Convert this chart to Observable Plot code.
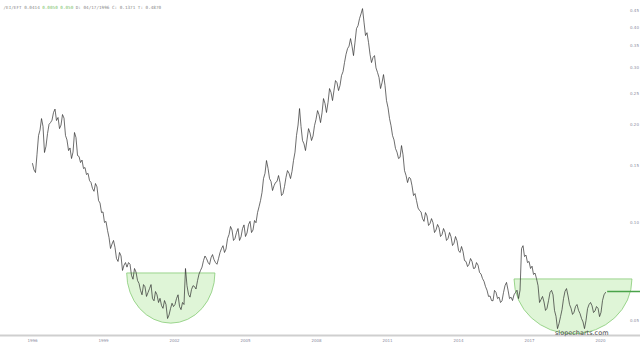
<!DOCTYPE html>
<html><head><meta charset="utf-8">
<script src="https://cdn.jsdelivr.net/npm/d3@7"></script>
<script src="https://cdn.jsdelivr.net/npm/@observablehq/plot@0.6"></script>
<style>html,body{margin:0;padding:0;background:#fff;} #chart svg{display:block}</style>
</head><body><div id="chart"></div>
<script>
// ---- data ----
const seriesStart = "1996-01-01";
const stepDays = 23.15;
const ratioValues = [
0.1522,0.1455,0.1428,0.1620,0.1857,0.1930,0.2094,0.1980,0.1646,0.1720,
0.1883,0.2010,0.2035,0.2070,0.2186,0.2240,0.2065,0.2110,0.1950,0.2000,
0.2155,0.2100,0.1857,0.1800,0.1669,0.1700,0.1577,0.1650,0.1897,0.1830,
0.1611,0.1600,0.1533,0.1560,0.1469,0.1480,0.1408,0.1420,0.1349,0.1330,
0.1275,0.1250,0.1321,0.1290,0.1171,0.1150,0.1075,0.1080,0.1002,0.1010,
0.0947,0.0900,0.0833,0.0860,0.0882,0.0840,0.0776,0.0760,0.0810,0.0790,
0.0713,0.0740,0.0754,0.0730,0.0754,0.0745,0.0688,0.0670,0.0723,0.0705,
0.0664,0.0650,0.0619,0.0600,0.0645,0.0635,0.0593,0.0610,0.0627,0.0645,
0.0584,0.0575,0.0614,0.0600,0.0568,0.0585,0.0556,0.0545,0.0576,0.0560,
0.0507,0.0520,0.0544,0.0565,0.0552,0.0560,0.0584,0.0600,0.0552,0.0540,
0.0568,0.0560,0.0723,0.0640,0.0601,0.0590,0.0623,0.0640,0.0636,0.0625,
0.0664,0.0695,0.0713,0.0730,0.0765,0.0790,0.0776,0.0755,0.0744,0.0780,
0.0798,0.0770,0.0754,0.0745,0.0776,0.0810,0.0833,0.0850,0.0810,0.0830,
0.0894,0.0920,0.0974,0.0950,0.0882,0.0895,0.0933,0.0960,0.0882,0.0905,
0.0960,0.0985,0.0907,0.0930,0.0988,0.1010,0.0933,0.0950,0.1016,0.1000,
0.1075,0.1120,0.1171,0.1240,0.1368,0.1420,0.1555,0.1470,0.1368,0.1340,
0.1257,0.1300,0.1330,0.1340,0.1398,0.1330,0.1213,0.1230,0.1293,0.1380,
0.1448,0.1420,0.1368,0.1440,0.1555,0.1650,0.1857,0.2000,0.2248,0.1980,
0.1792,0.1750,0.1669,0.1800,0.1950,0.1890,0.1792,0.1850,0.1992,0.2080,
0.2216,0.2150,0.2035,0.2180,0.2413,0.2330,0.2186,0.2350,0.2591,0.2520,
0.2379,0.2560,0.2742,0.2700,0.2554,0.2650,0.2841,0.2920,0.3115,0.3300,
0.3440,0.3500,0.3693,0.3500,0.3273,0.3600,0.3964,0.4050,0.4256,0.4400,
0.4568,0.4150,0.3773,0.3850,0.3590,0.3300,0.3115,0.3230,0.3273,0.3000,
0.2902,0.2800,0.2591,0.2700,0.2861,0.2650,0.2379,0.2260,0.2094,0.1990,
0.1857,0.1800,0.1693,0.1650,0.1577,0.1590,0.1729,0.1620,0.1448,0.1400,
0.1330,0.1380,0.1368,0.1300,0.1213,0.1230,0.1171,0.1110,0.1091,0.1080,
0.1030,0.1010,0.1075,0.1050,0.0981,0.0995,0.1030,0.1000,0.0933,0.0950,
0.0988,0.0965,0.0907,0.0920,0.0960,0.0935,0.0882,0.0895,0.0933,0.0905,
0.0851,0.0865,0.0907,0.0880,0.0821,0.0810,0.0845,0.0815,0.0765,0.0760,
0.0733,0.0745,0.0776,0.0760,0.0723,0.0725,0.0754,0.0740,0.0703,0.0695,
0.0673,0.0660,0.0636,0.0620,0.0593,0.0595,0.0576,0.0575,0.0619,0.0610,
0.0584,0.0590,0.0568,0.0575,0.0610,0.0640,0.0655,0.0620,0.0584,0.0590,
0.0576,0.0600,0.0610,0.0620,0.0584,0.0620,0.0833,0.0850,0.0787,0.0795,
0.0754,0.0760,0.0723,0.0735,0.0693,0.0700,0.0673,0.0640,0.0568,0.0580,
0.0593,0.0570,0.0537,0.0545,0.0576,0.0610,0.0619,0.0600,0.0537,0.0515,
0.0472,0.0490,0.0514,0.0540,0.0584,0.0615,0.0627,0.0595,0.0560,0.0545,
0.0522,0.0530,0.0552,0.0560,0.0537,0.0525,0.0507,0.0495,0.0472,0.0500,
0.0544,0.0560,0.0568,0.0555,0.0529,0.0535,0.0552,0.0545,0.0514,0.0530,
0.0576,0.0600,0.0610
];
const yTickValues = [0.05,0.10,0.15,0.20,0.25,0.30,0.35,0.40,0.45];
const xTickYears = [1996,1999,2002,2005,2008,2011,2014,2017,2020];
const xDomain = ["1994-08-25","2021-09-09"];
const yDomain = [0.04495, 0.4838];
const bowlStarts = ["2000-01-01","2016-05-14"];
const bowlEnds = ["2003-09-24","2021-05-08"];
const bowlTops = [0.0698, 0.0669];
const bowlBottoms = [0.0489, 0.0453];
const levelStart = "2020-04-20";
const levelValue = 0.0614;
const headerParts = ["/EI/EFT 0.0414 ", "0.0050 0.050 ", "D: 04/17/1996 C: 0.1371 T: 0.4870"];
const headerColors = ["#8a8a8a", "#7bbf6a", "#8a8a8a"];
const watermark = "slopecharts.com";

// ---- build tables ----
const start = new Date(seriesStart);
const series = ratioValues.map((v, i) => ({date: new Date(+start + Math.round(i * stepDays) * 864e5), value: v}));
const bowls = bowlStarts.map((s, i) => ({start: new Date(s), end: new Date(bowlEnds[i]), top: bowlTops[i], bottom: bowlBottoms[i]}));
const xTicks = xTickYears.map(y => new Date(Date.UTC(y, 0, 1)));

const headerFont = 4.3;
let offset = 3;
const headerMarks = headerParts.map((t, i) => {
  const m = Plot.text([t], {frameAnchor: "top-left", dx: offset, dy: 5, fontSize: headerFont,
    fontFamily: "DejaVu Sans Mono", fill: headerColors[i], text: d => d});
  offset += t.length * headerFont * 0.6;
  return m;
});

function bowlMark(index, scales) {
  const g = d3.create("svg:g");
  for (const b of bowls) {
    const x1 = scales.x(b.start), x2 = scales.x(b.end);
    const yt = scales.y(b.top), yb = scales.y(b.bottom);
    const rx = (x2 - x1) / 2, ry = yb - yt;
    g.append("path")
      .attr("d", `M${x1},${yt}A${rx},${ry} 0 0 0 ${x2},${yt}Z`)
      .attr("fill", "#c9efbd").attr("fill-opacity", 0.6)
      .attr("stroke", "#86cc76").attr("stroke-width", 0.8);
  }
  return g.node();
}

const chart = Plot.plot({
  width: 640, height: 347,
  marginTop: 0, marginBottom: 12, marginLeft: 0, marginRight: 0,
  style: {background: "#fff", fontFamily: "DejaVu Sans"},
  x: {type: "utc", domain: xDomain.map(d => new Date(d)), label: null},
  y: {type: "log", domain: yDomain, label: null},
  marks: [
    Plot.frame({anchor: "bottom", stroke: "#cfcfcf", strokeWidth: 2}),
    bowlMark,
    Plot.line(series, {x: "date", y: "value", stroke: "#2e2e2e", strokeWidth: 0.7}),
    Plot.ruleY([levelValue], {x1: new Date(levelStart), x2: new Date(xDomain[1]), stroke: "#4aa34a", strokeWidth: 1.6}),
    Plot.axisY({anchor: "right", label: null, ticks: yTickValues, tickFormat: d3.format(".2f"), tickSize: 0, tickPadding: 0,
      dx: -6, textAnchor: "middle", fontSize: 4, fill: "#8c8ca0"}),
    Plot.axisX({label: null, ticks: xTicks, tickFormat: d3.utcFormat("%Y"), tickSize: 0, tickPadding: 4, fontSize: 4, fill: "#8c8ca0"}),
    Plot.text([watermark], {frameAnchor: "bottom-right", dx: -32, dy: -1, lineAnchor: "bottom",
      fontSize: 6.5, fill: "#4a4a4a", fontFamily: "DejaVu Sans", text: d => d}),
    ...headerMarks
  ]
});
document.getElementById("chart").append(chart);
</script>
</body></html>
